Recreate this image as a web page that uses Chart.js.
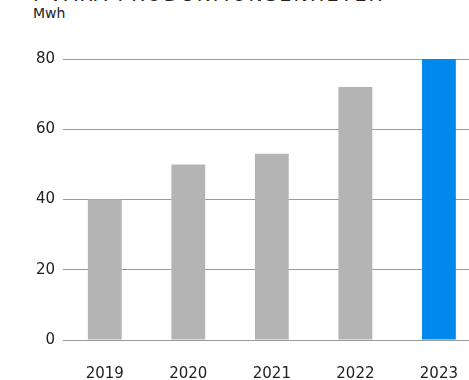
<!DOCTYPE html>
<html>
<head>
<meta charset="utf-8">
<script src="https://cdn.jsdelivr.net/npm/chart.js@4.4.0/dist/chart.umd.min.js"></script>
<style>
  body { margin: 0; width: 469px; height: 380px; overflow: hidden; background: #fff; font-family: "DejaVu Sans", sans-serif; color: #222; position: relative; }
  #title { position: absolute; left: 33px; top: -17px; font-size: 19px; letter-spacing: 2.2px; white-space: nowrap; color: #222; }
  #unit { position: absolute; left: 33px; top: 5px; font-size: 14px; color: #222; }
  #wrap { position: absolute; left: 0; top: 0; width: 483px; height: 380px; }
</style>
</head>
<body>
<div id="title">I VÅRA PRODUKTIONSENHETER</div>
<div id="unit">Mwh</div>
<div id="wrap"><canvas id="myChart" width="483" height="380"></canvas></div>

<script>
var years = ["2019", "2020", "2021", "2022", "2023"];
var values = [40, 50, 53, 72, 80];
var barColors = ["#b4b4b4", "#b4b4b4", "#b4b4b4", "#b4b4b4", "#0088ec"];
var yTicks = [0, 20, 40, 60, 80];

new Chart("myChart", {
  type: "bar",
  data: {
    labels: years,
    datasets: [{
      data: values,
      backgroundColor: barColors,
      borderWidth: 0,
      barPercentage: 0.405,
      categoryPercentage: 1
    }]
  },
  options: {
    responsive: false,
    animation: false,
    layout: { padding: { top: 59, left: 0, right: 0, bottom: 0 } },
    plugins: { legend: { display: false }, tooltip: { enabled: false } },
    scales: {
      x: {
        grid: { display: false, drawTicks: false },
        border: { display: false },
        ticks: { color: "#222", font: { family: "DejaVu Sans", size: 15 }, padding: 25 },
        afterFit: function (s) { s.height = 40; }
      },
      y: {
        min: 0,
        max: 80,
        grid: { color: "#9a9a9a", lineWidth: 1, drawTicks: false },
        border: { display: false },
        afterBuildTicks: function (s) { s.ticks = yTicks.map(function (v) { return { value: v }; }); },
        ticks: { color: "#222", font: { family: "DejaVu Sans", size: 15 }, padding: 8 },
        afterFit: function (s) { s.width = 63; }
      }
    }
  }
});
</script>
</body>
</html>
